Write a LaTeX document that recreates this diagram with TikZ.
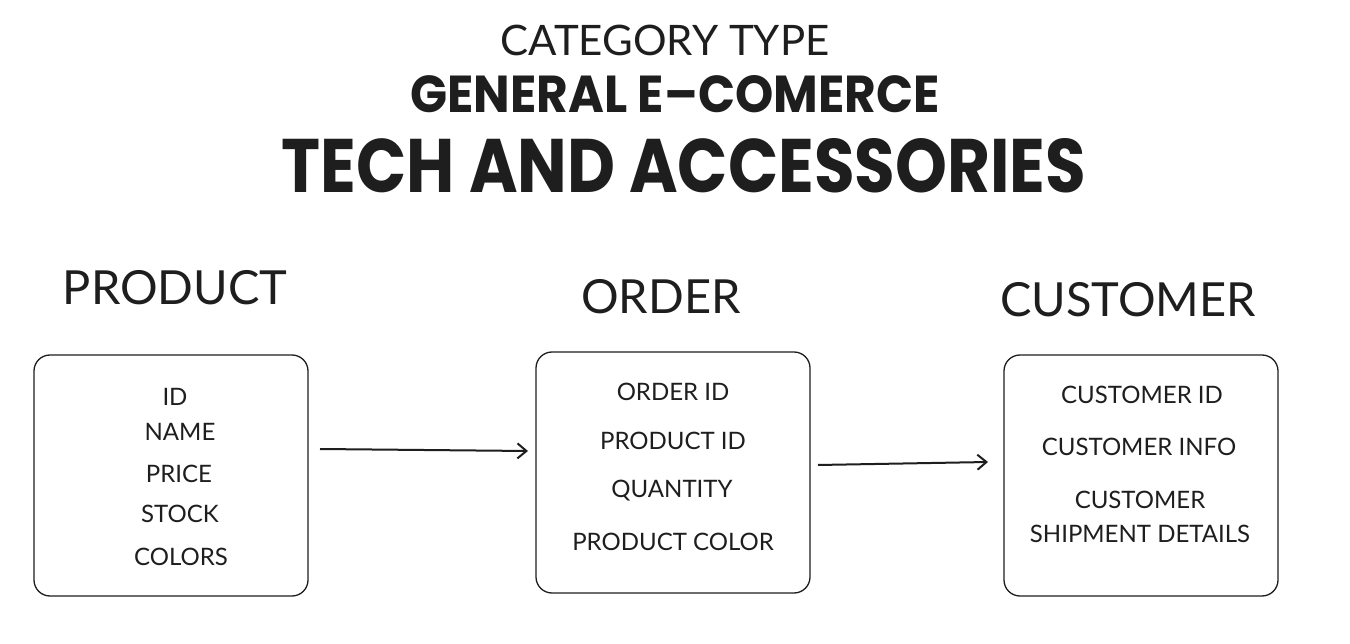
\documentclass[tikz,border=0pt]{standalone}
\usepackage{fontspec}
\setmainfont{Lato}
\newfontfamily\headfont{Poppins}
\usetikzlibrary{arrows.meta}
\definecolor{ink}{HTML}{1E1E1E}
\tikzset{
  entity/.style={draw=ink, line width=1.3pt, rounded corners=16pt, inner sep=0pt, minimum width=274pt, minimum height=241pt},
  field/.style={text=ink, font=\fontsize{24}{34}\selectfont, inner sep=0pt, align=center},
  etitle/.style={text=ink, font=\fontsize{47}{52}\selectfont, inner sep=0pt},
  arr/.style={draw=ink, line width=2pt, -{Straight Barb[length=9pt,width=15pt,line width=2pt]}},
}
\begin{document}
\begin{tikzpicture}[x=1pt,y=-1pt]
\useasboundingbox[fill=white] (0,0) rectangle (1350,644);
% titles
\node[text=ink, inner sep=0pt, font=\fontsize{42}{48}\selectfont] (cat) at (665,40) {CATEGORY TYPE};
\node[text=ink, inner sep=0pt, anchor=north] (gen) at (675,75) {\resizebox{529pt}{37pt}{\headfont\bfseries GENERAL E–COMERCE}};
\node[text=ink, inner sep=0pt, anchor=north] (tech) at (684,138) {\resizebox{804pt}{54pt}{\headfont\bfseries TECH AND ACCESSORIES}};
% entity titles
\node[etitle] (tprod) at (175,288) {PRODUCT};
\node[etitle] (tord) at (661,297) {ORDER};
\node[etitle] (tcus) at (1128,300) {CUSTOMER};
% boxes
\node[entity] (prod) at (171,475.5) {};
\node[entity] (ord) at (673,472.5) {};
\node[entity] (cus) at (1141,475.5) {};
% product fields
\node[field] (p1) at (175,397) {ID};
\node[field] (p2) at (180,432) {NAME};
\node[field] (p3) at (179,474) {PRICE};
\node[field] (p4) at (180,514) {STOCK};
\node[field] (p5) at (181,557) {COLORS};
% order fields
\node[field] (o1) at (673,392) {ORDER ID};
\node[field] (o2) at (673,441) {PRODUCT ID};
\node[field] (o3) at (672,491) {QUANTITY};
\node[field] (o4) at (673,542) {PRODUCT COLOR};
% customer fields
\node[field] (c1) at (1142,395) {CUSTOMER ID};
\node[field] (c2) at (1139,447) {CUSTOMER INFO};
\node[field] (c3) at (1140,500) {CUSTOMER};
\node[field] (c4) at (1140,534) {SHIPMENT DETAILS};
% arrows
\coordinate (a1s) at (320,449);
\coordinate (a1e) at (528,451);
\coordinate (a2s) at (818,465);
\coordinate (a2e) at (988,462);
\draw[arr] (a1s) -- (a1e);
\draw[arr] (a2s) -- (a2e);
\end{tikzpicture}
\end{document}
